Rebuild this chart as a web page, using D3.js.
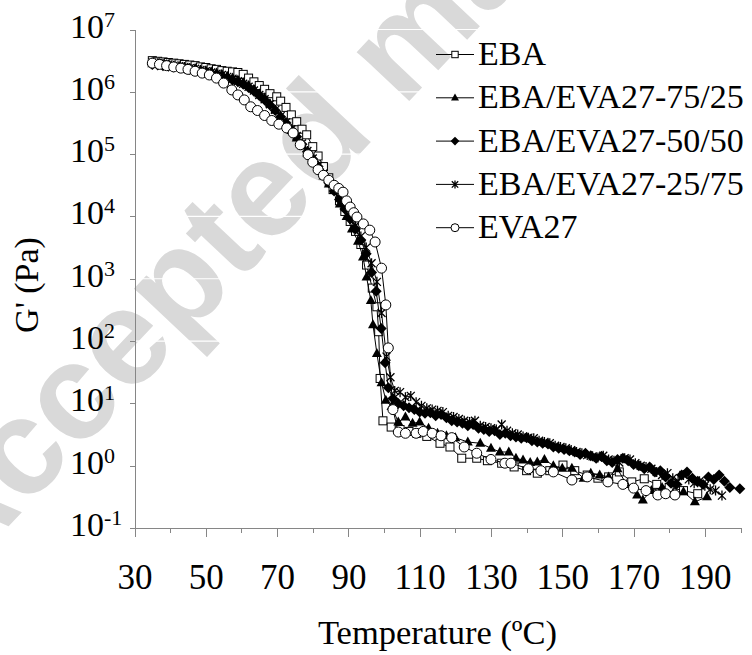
<!DOCTYPE html>
<html><head><meta charset="utf-8">
<script src="https://cdn.jsdelivr.net/npm/d3@7"></script>
<style>body{margin:0;background:#fff} svg{display:block}</style>
</head><body>
<svg id="chart" width="752" height="655"></svg>
<script>
// ---------- data (temperature °C, log10 G' [Pa]) ----------
const seriesNames = ["EBA", "EBA/EVA27-75/25", "EBA/EVA27-50/50", "EBA/EVA27-25/75", "EVA27"];
const xMajorTicks = [30, 50, 70, 90, 110, 130, 150, 170, 190];
const xMinorTicks = [30, 40, 50, 60, 70, 80, 90, 100, 110, 120, 130, 140, 150, 160, 170, 180, 190, 200];
const yExponents = [-1, 0, 1, 2, 3, 4, 5, 6, 7];

const ebaData = [[35,6.50],[36.5,6.49],[38,6.48],[39.5,6.47],[41,6.46],[42.5,6.45],[44,6.44],[45.5,6.43],[47,6.42],[48.5,6.40],[50,6.39],[51.5,6.37],[53,6.36],[54.5,6.34],[56,6.33],[57.5,6.32],[59,6.31],[60.5,6.28],[62,6.22],[63.5,6.16],[65,6.10],[66.5,6.04],[68,5.97],[69.9,5.92],[71,5.85],[72.5,5.75],[74,5.63],[75.5,5.52],[77,5.40],[78.3,5.31],[80,5.12],[81.5,4.97],[83,4.80],[84.5,4.62],[85.7,4.43],[87.5,4.25],[89,4.08],[90.5,3.92],[92,3.76],[93.5,3.55],[95.1,3.22],[96.7,2.85],[98,2.55],[98.5,2.15],[98.9,1.40],[99.7,0.72],[102,0.62],[104.5,0.58],[107,0.55],[109.2,0.52],[112,0.47],[115.7,0.36],[118.5,0.30],[121.8,0.12],[126,0.12],[129,0.08],[133,0.04],[136.5,-0.02],[140,-0.08],[143,-0.12],[146.5,-0.08],[150.2,0.01],[153.5,-0.08],[157,-0.15],[160,-0.20],[163,-0.18],[166,-0.10],[169.5,-0.26],[173,-0.21],[176.5,-0.30],[180,-0.35],[184,-0.40],[188,-0.45]];

const blend7525Data = [[35,6.45],[36.5,6.44],[38,6.43],[39.5,6.42],[41,6.41],[42.5,6.40],[44,6.39],[45.5,6.38],[47,6.37],[48.5,6.35],[50,6.34],[51.5,6.32],[53,6.30],[54.5,6.28],[56,6.25],[57.5,6.22],[59,6.19],[60.5,6.15],[62,6.10],[63.5,6.04],[65,5.97],[66.5,5.90],[68,5.81],[69.5,5.71],[71,5.60],[72.5,5.49],[74,5.38],[75.5,5.26],[77,5.14],[78.5,5.02],[80,4.90],[81.5,4.78],[83,4.65],[84.5,4.52],[86,4.42],[87.6,4.20],[89.5,4.00],[91,3.80],[92.7,3.60],[94.1,3.35],[95.1,3.03],[96.3,2.65],[96.9,2.26],[98,1.80],[99.3,1.33],[100.5,1.05],[102.1,0.95],[104,0.70],[106,0.78],[108,0.68],[110,0.70],[112.5,0.60],[115,0.52],[117.5,0.48],[120,0.45],[123.5,0.38],[127,0.36],[130,0.28],[132.5,0.22],[135,0.22],[137,0.12],[139,0.09],[141,0.05],[143,0.06],[145,0.10],[147.5,0.00],[150,-0.04],[152.7,-0.04],[156,-0.20],[158,-0.12],[160.5,-0.15],[163,-0.18],[165.5,-0.05],[168,-0.30],[171,-0.47],[172.6,-0.55],[175,-0.40],[178,-0.35],[181,-0.45],[184,-0.42],[187.2,-0.58],[190.6,-0.50]];

const blend5050Data = [[35,6.44],[36.5,6.43],[38,6.42],[39.5,6.41],[41,6.40],[42.5,6.39],[44,6.38],[45.5,6.36],[47,6.35],[48.5,6.33],[50,6.31],[51.5,6.29],[53,6.27],[54.5,6.25],[56,6.22],[57.5,6.19],[59,6.16],[60.5,6.12],[62,6.07],[63.5,6.01],[65,5.94],[66.5,5.87],[68,5.79],[69.5,5.70],[71,5.60],[72.5,5.50],[74,5.39],[75.5,5.28],[77,5.16],[78.5,5.04],[80,4.92],[81.5,4.80],[83,4.67],[84.5,4.54],[86,4.41],[87.5,4.27],[89,4.12],[90.5,3.96],[92,3.80],[93.5,3.62],[95,3.40],[96.5,3.10],[97.8,2.80],[99.2,2.20],[100.3,1.65],[101.2,1.25],[102.5,1.08],[104,1.00],[105.5,0.96],[107,0.93],[108.5,0.90],[110,0.86],[111.5,0.84],[113,0.85],[114.5,0.80],[116,0.82],[117.5,0.77],[119,0.72],[120.5,0.70],[122,0.68],[123.5,0.64],[125,0.66],[126.5,0.60],[128,0.58],[129.5,0.55],[131,0.56],[132.5,0.50],[134,0.52],[135.5,0.48],[137,0.46],[138.5,0.44],[140,0.45],[141.5,0.40],[143,0.38],[144.5,0.36],[146,0.35],[147.5,0.30],[149,0.28],[150.5,0.26],[152,0.24],[153.5,0.22],[155,0.18],[156.5,0.20],[158,0.16],[159.5,0.12],[161,0.15],[162.5,0.08],[164,0.05],[165.5,0.10],[167,0.12],[168.5,0.08],[170,0.02],[171.5,0.00],[173,-0.05],[174.5,-0.02],[176,-0.10],[177.5,-0.08],[179,-0.18],[180.5,-0.28],[182,-0.30],[183.5,-0.15],[185,-0.10],[186.5,-0.20],[188,-0.25],[189.5,-0.30],[191,-0.18],[192.5,-0.22],[194,-0.15],[195.5,-0.25],[197,-0.35],[199.8,-0.37]];

const blend2575Data = [[35,6.47],[36.5,6.46],[38,6.45],[39.5,6.44],[41,6.42],[42.5,6.41],[44,6.40],[45.5,6.38],[47,6.37],[48.5,6.35],[50,6.33],[51.5,6.31],[53,6.29],[54.5,6.27],[56,6.24],[57.5,6.21],[59,6.17],[60.5,6.13],[62,6.08],[63.5,6.02],[65,5.95],[66.5,5.88],[68,5.80],[69.5,5.71],[71,5.61],[72.5,5.51],[74,5.40],[75.5,5.29],[77,5.17],[78.5,5.05],[80,4.93],[81.5,4.81],[83,4.69],[84.5,4.56],[86,4.43],[87.5,4.30],[89,4.15],[90.5,4.00],[92,3.85],[93.5,3.68],[95,3.50],[96.5,3.25],[98,2.95],[99.3,2.45],[100.7,1.75],[101.8,1.42],[103,1.20],[104.5,1.18],[106,1.10],[107.5,1.12],[109,1.02],[110.5,0.96],[112,0.92],[113.5,0.90],[115,0.88],[116.5,0.86],[118,0.80],[119.5,0.78],[121,0.75],[122.5,0.72],[124,0.70],[125.5,0.72],[127,0.64],[128.5,0.62],[130,0.60],[131.5,0.58],[133,0.66],[134.5,0.56],[136,0.52],[137.5,0.50],[139,0.47],[140.5,0.45],[142,0.44],[143.5,0.40],[145,0.38],[146.5,0.36],[148,0.32],[149.5,0.30],[151,0.28],[152.5,0.25],[154,0.22],[155.5,0.20],[157,0.17],[158.5,0.15],[160,0.13],[161.5,0.16],[163,0.10],[164.5,0.08],[166,0.05],[167.5,0.12],[169,0.10],[170.5,0.04],[172,0.00],[173.5,-0.02],[175,-0.05],[176.5,-0.10],[178,-0.15],[179.5,-0.12],[181,-0.20],[182.5,-0.25],[184,-0.15],[185.5,-0.22],[187,-0.28],[188.5,-0.25],[190,-0.32],[191.5,-0.38],[193,-0.40],[194.8,-0.48]];

const eva27Data = [[35,6.46],[37,6.44],[39,6.42],[41,6.40],[43,6.38],[45,6.36],[47,6.33],[49,6.30],[51,6.27],[53,6.22],[55,6.14],[57.3,6.03],[59,5.95],[60.8,5.87],[62.6,5.76],[64.5,5.70],[66.5,5.62],[68.5,5.54],[70.5,5.48],[72.7,5.42],[74.5,5.34],[76.5,5.15],[78.7,4.99],[80,4.87],[81.5,4.75],[83,4.66],[84.5,4.58],[86,4.50],[87.3,4.45],[88.5,4.39],[89.5,4.25],[90.5,4.15],[91.5,4.06],[92.4,3.99],[94.2,3.88],[96,3.78],[97.5,3.59],[99.3,3.17],[100.5,2.58],[101.2,1.89],[102.5,0.90],[104,0.54],[106,0.52],[109,0.52],[111,0.55],[113.5,0.52],[116,0.48],[119,0.45],[122.5,0.30],[126,0.20],[130,0.10],[133.9,0.04],[135.6,0.04],[140.5,-0.05],[144,-0.08],[147.5,-0.10],[152.7,-0.23],[157,-0.18],[162.8,-0.26],[167,-0.30],[170,-0.36],[173.5,-0.40],[176.8,-0.47],[179,-0.45],[181.6,-0.47]];

const seriesData = [ebaData, blend7525Data, blend5050Data, blend2575Data, eva27Data];
const markerTypes = ["square", "triangle", "diamond", "star", "circle"];

// ---------- layout ----------
const svg = d3.select("#chart");
const serif = "Liberation Serif, Times New Roman, serif";
const axisColor = "#868686";
const x = d3.scaleLinear().domain([30, 200]).range([134.5, 740.5]);
const y = d3.scaleLog().domain([0.1, 1e7]).range([528, 29.5]);

// watermark (background)
svg.append("text")
  .attr("transform", "translate(-43,581) rotate(-46.7)")
  .attr("font-family", "Liberation Sans, Arial, sans-serif")
  .attr("font-weight", "bold")
  .attr("font-size", 136)
  .attr("fill", "#d9d9d9")
  .text("Accepted manuscript");

// white gridlines (over the watermark)
svg.append("g").selectAll("line").data(yExponents.filter(e => e > -1)).join("line")
  .attr("x1", x(30)).attr("x2", x(200))
  .attr("y1", e => y(Math.pow(10, e))).attr("y2", e => y(Math.pow(10, e)))
  .attr("stroke", "#fff").attr("stroke-width", 1.2);

// x axis: minor ticks, then major ticks with labels
const gxMinor = svg.append("g").attr("transform", "translate(0,528)")
  .call(d3.axisBottom(x).tickValues(xMinorTicks).tickSize(5).tickFormat(""));
const gxMajor = svg.append("g").attr("transform", "translate(0,528)")
  .call(d3.axisBottom(x).tickValues(xMajorTicks).tickSize(9).tickPadding(27).tickFormat(d3.format("d")));
gxMajor.select(".domain").remove();
[gxMinor, gxMajor].forEach(g => {
  g.selectAll("path,line").attr("stroke", axisColor).attr("shape-rendering", "crispEdges");
  g.selectAll("text").attr("font-family", serif).attr("font-size", 35).attr("fill", "#000");
});

// y axis
const gy = svg.append("g").attr("transform", "translate(134.5,0)")
  .call(d3.axisLeft(y).tickValues(yExponents.map(e => Math.pow(10, e))).tickSize(5).tickFormat(""));
gy.selectAll("path,line").attr("stroke", axisColor).attr("shape-rendering", "crispEdges");
const yLab = svg.append("g").selectAll("text").data(yExponents).join("text")
  .attr("x", 70).attr("y", e => y(Math.pow(10, e)) + 8)
  .attr("font-family", serif).attr("font-size", 34).attr("fill", "#000");
yLab.append("tspan").text("10");
yLab.append("tspan").attr("dy", -11).attr("font-size", 22).text(e => e < 0 ? "-" + Math.abs(e) : e);

// axis titles
svg.append("text").attr("x", x(115)).attr("y", 644).attr("text-anchor", "middle")
  .attr("font-family", serif).attr("font-size", 34.5).text("Temperature (ºC)");
svg.append("text").attr("transform", "translate(38,285) rotate(-90)").attr("text-anchor", "middle")
  .attr("font-family", serif).attr("font-size", 34).text("G' (Pa)");

// markers
function drawMarker(sel, type, s) {
  if (type === "square") {
    sel.append("rect").attr("x", -4 * s).attr("y", -4 * s).attr("width", 8 * s).attr("height", 8 * s)
      .attr("fill", "#fff").attr("stroke", "#000").attr("stroke-width", 1);
  } else if (type === "triangle") {
    sel.append("path").attr("d", `M0,${-5.5*s}L${5*s},${3.5*s}L${-5*s},${3.5*s}Z`).attr("fill", "#000");
  } else if (type === "diamond") {
    sel.append("path").attr("d", `M0,${-5.5*s}L${5.5*s},0L0,${5.5*s}L${-5.5*s},0Z`).attr("fill", "#000");
  } else if (type === "star") {
    sel.append("path").attr("d", `M${-4*s},${-4*s}L${4*s},${4*s}M${-4*s},${4*s}L${4*s},${-4*s}M0,${-5*s}L0,${5*s}`)
      .attr("stroke", "#000").attr("stroke-width", 1.3).attr("fill", "none");
  } else {
    sel.append("circle").attr("r", 5 * s).attr("fill", "#fff").attr("stroke", "#000").attr("stroke-width", 1);
  }
}

const line = d3.line().x(d => x(d[0])).y(d => y(Math.pow(10, d[1])));
const plot = svg.append("g");
seriesData.forEach((data, i) => {
  const g = plot.append("g");
  g.append("path").datum(data).attr("d", line).attr("fill", "none").attr("stroke", "#000").attr("stroke-width", 1);
  g.selectAll("g").data(data).join("g")
    .attr("transform", d => `translate(${x(d[0])},${y(Math.pow(10, d[1]))})`)
    .each(function () { drawMarker(d3.select(this), markerTypes[i], 1); });
});

// legend
const legend = svg.append("g");
seriesNames.forEach((name, i) => {
  const by = 65 + i * 43.3;
  const cy = by - 10.5;
  legend.append("line").attr("x1", 436).attr("x2", 474).attr("y1", cy).attr("y2", cy)
    .attr("stroke", "#000").attr("stroke-width", 1);
  const m = legend.append("g").attr("transform", `translate(455,${cy})`);
  drawMarker(m, markerTypes[i], 0.8);
  legend.append("text").attr("x", 478).attr("y", by)
    .attr("font-family", serif).attr("font-size", 34).attr("fill", "#000").text(name);
});
</script>
</body></html>
